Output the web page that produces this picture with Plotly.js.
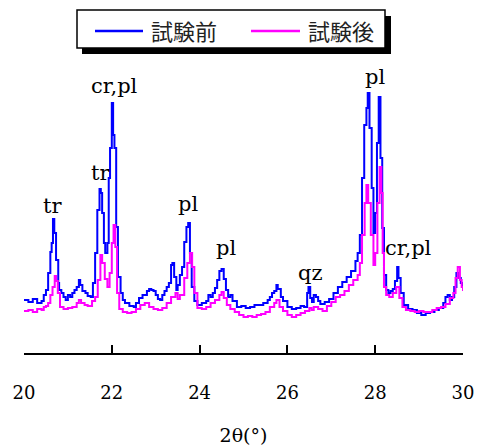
<!DOCTYPE html>
<html>
<head>
<meta charset="utf-8">
<script src="https://cdn.plot.ly/plotly-3.0.1.min.js"></script>
<style>
  html, body { margin: 0; padding: 0; background: #fff; }
  #chart { width: 481px; height: 446px; }
</style>
</head>
<body>
<div id="chart"></div>
<script>
// X-ray diffraction patterns, 2θ = 20–30°, before and after the test
const seriesNames = ["試験前", "試験後"];

const beforeTheta = [
  20.00, 20.10, 20.20, 20.30, 20.40, 20.45, 20.50, 20.55, 20.60, 20.63,
  20.66, 20.69, 20.73, 20.78, 20.80, 20.85, 20.90, 20.95, 21.00, 21.05,
  21.10, 21.15, 21.20, 21.25, 21.28, 21.33, 21.40, 21.45, 21.52, 21.57,
  21.62, 21.67, 21.72, 21.75, 21.78, 21.82, 21.85, 21.90, 21.93, 21.96,
  22.00, 22.03, 22.06, 22.10, 22.14, 22.20, 22.25, 22.30, 22.40, 22.50,
  22.55, 22.62, 22.70, 22.80, 22.85, 22.90, 22.95, 23.00, 23.05, 23.10,
  23.15, 23.20, 23.25, 23.30, 23.35, 23.38, 23.42, 23.47, 23.50, 23.55,
  23.60, 23.65, 23.70, 23.74, 23.78, 23.82, 23.88, 23.95, 24.05, 24.15,
  24.20, 24.25, 24.30, 24.35, 24.40, 24.45, 24.50, 24.55, 24.60, 24.65,
  24.70, 24.75, 24.85, 24.95, 25.05, 25.15, 25.25, 25.35, 25.45, 25.55,
  25.60, 25.65, 25.70, 25.75, 25.78, 25.85, 25.90, 26.00, 26.10, 26.20,
  26.30, 26.38, 26.45, 26.48, 26.52, 26.56, 26.60, 26.65, 26.70, 26.75,
  26.85, 26.95, 27.05, 27.15, 27.25, 27.35, 27.45, 27.55, 27.60, 27.65,
  27.70, 27.75, 27.80, 27.83, 27.87, 27.92, 27.96, 28.00, 28.04, 28.08,
  28.12, 28.16, 28.20, 28.25, 28.30, 28.35, 28.40, 28.45, 28.50, 28.53,
  28.58, 28.65, 28.75, 28.85, 28.95, 29.05, 29.15, 29.25, 29.35, 29.45,
  29.55, 29.60, 29.65, 29.70, 29.75, 29.80, 29.85, 29.90, 29.95, 30.00
];
const beforeIntensity = [
   53,  51,  54,  50,  52,  58,  63,  80, 101, 110,
  134, 120,  93,  70,  63,  60,  56,  53,  58,  56,
   60,  63,  66,  73,  68,  62,  60,  57,  56,  70,
  100, 143, 164, 160, 140, 110, 100, 110, 175, 205,
  250, 218, 205, 126,  76,  60,  53,  50,  47,  46,
   50,  55,  58,  62,  64,  63,  62,  58,  54,  53,
   58,  62,  66,  70,  88,  90,  76,  63,  68,  78,
   86, 111, 126, 130, 100,  66,  52,  48,  50,  52,
   58,  56,  60,  65,  73,  82,  84,  74,  63,  56,
   58,  52,  46,  47,  45,  46,  48,  48,  50,  53,
   56,  60,  62,  68,  64,  56,  52,  46,  44,  45,
   47,  46,  60,  66,  55,  51,  58,  56,  52,  49,
   51,  54,  60,  66,  71,  76,  82,  92, 100, 118,
  175, 228, 245, 260, 225, 165, 120, 140, 210, 256,
  195, 125,  78,  63,  60,  62,  64,  72,  86,  75,
   60,  48,  44,  43,  40,  38,  40,  41,  43,  45,
   50,  56,  58,  53,  56,  66,  80,  75,  70,  62
];

const afterTheta = [
  20.00, 20.10, 20.20, 20.30, 20.40, 20.45, 20.50, 20.55, 20.60, 20.65,
  20.70, 20.73, 20.77, 20.82, 20.90, 21.00, 21.10, 21.20, 21.25, 21.30,
  21.38, 21.45, 21.55, 21.62, 21.68, 21.74, 21.78, 21.84, 21.90, 21.95,
  22.00, 22.04, 22.08, 22.12, 22.17, 22.25, 22.35, 22.45, 22.55, 22.65,
  22.75, 22.85, 22.95, 23.05, 23.15, 23.25, 23.35, 23.45, 23.50, 23.55,
  23.65, 23.72, 23.78, 23.83, 23.88, 23.95, 24.05, 24.15, 24.25, 24.35,
  24.45, 24.50, 24.55, 24.62, 24.70, 24.80, 24.90, 25.00, 25.10, 25.20,
  25.30, 25.40, 25.50, 25.60, 25.70, 25.75, 25.82, 25.90, 26.00, 26.10,
  26.20, 26.30, 26.40, 26.50, 26.55, 26.60, 26.70, 26.80, 26.90, 27.00,
  27.10, 27.20, 27.30, 27.40, 27.50, 27.60, 27.65, 27.70, 27.76, 27.80,
  27.84, 27.90, 27.96, 28.00, 28.05, 28.10, 28.14, 28.17, 28.20, 28.25,
  28.32, 28.40, 28.48, 28.55, 28.62, 28.70, 28.80, 28.90, 29.00, 29.10,
  29.20, 29.30, 29.40, 29.50, 29.60, 29.70, 29.78, 29.83, 29.88, 29.93,
  29.97, 30.00
];
const afterIntensity = [
   42,  43,  41,  44,  43,  46,  47,  50,  58,  66,
   77,  72,  60,  46,  44,  45,  46,  50,  53,  50,
   48,  47,  52,  56,  73,  98,  90,  74,  66,  80,
  110, 128, 106,  60,  44,  41,  40,  41,  44,  48,
   50,  46,  44,  43,  45,  50,  56,  60,  54,  58,
   75,  90, 100,  86,  60,  45,  44,  46,  50,  53,
   58,  61,  55,  48,  44,  41,  38,  36,  37,  36,
   38,  39,  41,  46,  50,  53,  46,  42,  38,  36,
   38,  40,  42,  45,  43,  46,  44,  42,  47,  51,
   56,  58,  62,  68,  73,  78,  90, 118, 150, 168,
  150, 118,  88, 100, 150, 186, 160, 100,  66,  58,
   56,  60,  66,  55,  46,  43,  42,  41,  42,  41,
   41,  43,  45,  46,  49,  55,  60,  75,  86,  73,
   66,  62
];

// Phase labels placed over the peaks (tr, cr, pl, qz)
const peakLabels = ["tr", "tr", "cr,pl", "pl", "pl", "qz", "pl", "cr,pl"];
const peakTheta  = [20.64, 21.74, 22.07, 23.74, 24.60, 26.52, 28.00, 28.75];
const peakLevel  = [133, 166, 253, 135, 91, 66, 262, 91];

const xTicks = [20, 22, 24, 26, 28, 30];

const W = 481, H = 446;
const M = { l: 24, r: 18, t: 53, b: 93 };
const plotW = W - M.l - M.r, plotH = H - M.t - M.b;
const px = v => (v - M.l) / plotW;          // pixel column -> paper x
const py = v => (H - M.b - v) / plotH;      // pixel row -> paper y

const serif = "DejaVu Serif";
const cjk = "Noto Sans CJK JP";

const traces = [
  { x: beforeTheta, y: beforeIntensity, name: seriesNames[0], type: "scatter",
    mode: "lines", line: { color: "#0000ff", width: 2, shape: "hv" } },
  { x: afterTheta, y: afterIntensity, name: seriesNames[1], type: "scatter",
    mode: "lines", line: { color: "#ff00ff", width: 2, shape: "hv" } }
];

const annotations = peakLabels.map((t, i) => ({
  x: peakTheta[i], y: peakLevel[i], xref: "x", yref: "y",
  text: t, showarrow: false, yanchor: "bottom", yshift: 0,
  font: { family: serif, size: 21, color: "#000" }
}));

// Legend box with drop shadow
const shapes = [
  { type: "rect", xref: "paper", yref: "paper",
    x0: px(82), x1: px(391), y0: py(54), y1: py(16),
    fillcolor: "#000", line: { width: 0 } },
  { type: "rect", xref: "paper", yref: "paper",
    x0: px(77), x1: px(385), y0: py(48), y1: py(10),
    fillcolor: "#fff", line: { color: "#000", width: 1.5 } },
  { type: "line", xref: "paper", yref: "paper",
    x0: px(95), x1: px(143), y0: py(31), y1: py(31),
    line: { color: "#0000ff", width: 2.5 } },
  { type: "line", xref: "paper", yref: "paper",
    x0: px(251), x1: px(300), y0: py(31), y1: py(31),
    line: { color: "#ff00ff", width: 2.5 } }
];
annotations.push(
  { x: px(149), y: py(30), xref: "paper", yref: "paper", xanchor: "left", yanchor: "middle",
    text: seriesNames[0], showarrow: false, font: { family: cjk, size: 22, color: "#222" } },
  { x: px(306), y: py(30), xref: "paper", yref: "paper", xanchor: "left", yanchor: "middle",
    text: seriesNames[1], showarrow: false, font: { family: cjk, size: 22, color: "#222" } }
);

const layout = {
  width: W, height: H,
  margin: M,
  font: { family: serif, color: "#000" },
  paper_bgcolor: "#fff", plot_bgcolor: "#fff",
  showlegend: false,
  xaxis: {
    range: [20, 30], tickvals: xTicks, ticktext: xTicks.map(String),
    ticks: "inside", ticklen: 8, tickwidth: 2, tickcolor: "#000",
    showline: true, linecolor: "#000", linewidth: 2,
    showgrid: false, zeroline: false,
    ticklabelstandoff: 22,
    tickfont: { family: serif, size: 18, color: "#000" },
    title: { text: "2θ(°)", font: { family: serif, size: 19, color: "#000" }, standoff: 27 },
    automargin: false
  },
  yaxis: { range: [0, 300], visible: false, fixedrange: true },
  shapes: shapes,
  annotations: annotations
};

Plotly.newPlot("chart", traces, layout, { displayModeBar: false, staticPlot: true });
</script>
</body>
</html>
